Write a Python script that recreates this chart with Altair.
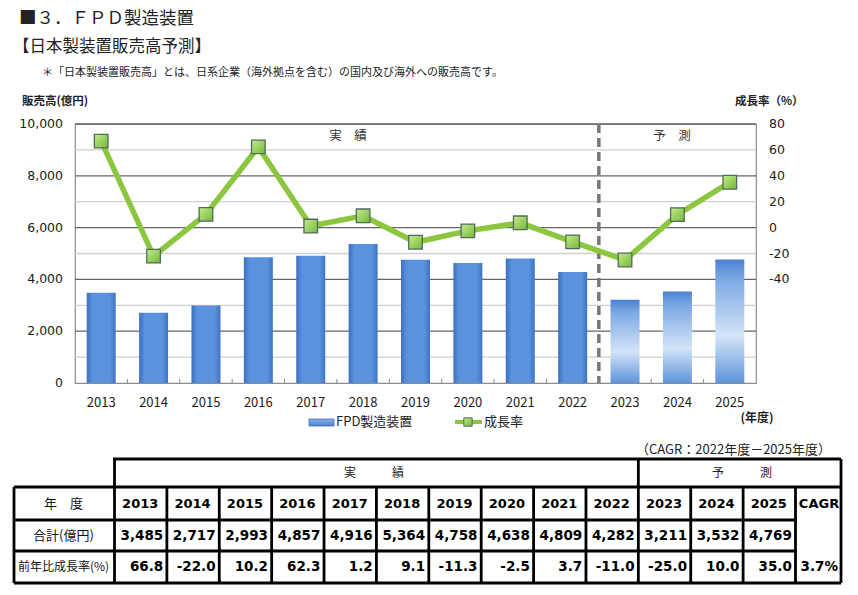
import altair as alt
import pandas as pd

# ---------------- data ----------------
years = [2013, 2014, 2015, 2016, 2017, 2018, 2019, 2020, 2021, 2022, 2023, 2024, 2025]
sales = [3485, 2717, 2993, 4857, 4916, 5364, 4758, 4638, 4809, 4282, 3211, 3532, 4769]
growth = [66.8, -22.0, 10.2, 62.3, 1.2, 9.1, -11.3, -2.5, 3.7, -11.0, -25.0, 10.0, 35.0]
phase = ["実績"] * 10 + ["予測"] * 3
cagr_label = "3.7%"
sales_ticks = [0, 2000, 4000, 6000, 8000, 10000]
growth_ticks = [-40, -20, 0, 20, 40, 60, 80]
grid_major = [2000, 4000, 6000, 8000, 10000]
grid_minor = [1000, 3000, 5000, 7000, 9000]

# ---------------- layout ----------------
W, H = 681, 259          # plot area
OX, OY = 75, 124          # plot origin in page
JP = "Noto Sans CJK JP"
NUM = "DejaVu Sans"
GREEN = "#8CC63F"

df = pd.DataFrame({
    "year": years, "sales": sales, "growth": growth, "phase": phase,
    "sales_lbl": [f"{v:,}" for v in sales],
    "growth_lbl": [f"{v:.1f}" for v in growth],
})
one = pd.DataFrame({"a": [0]})

xs = alt.Scale(domain=[years[0] - 0.5, years[-1] + 0.5], nice=False, zero=False, padding=0)
ys_sales = alt.Scale(domain=[0, 10000], nice=False, zero=False, padding=0)
ys_growth = alt.Scale(domain=[-120, 80], nice=False, zero=False, padding=0)


def label(text, x, y, size=12, weight="normal", align="left", font=JP, color="#222"):
    return alt.Chart(one).mark_text(
        text=text, align=align, baseline="middle", fontSize=size,
        fontWeight=weight, font=font, color=color
    ).encode(x=alt.value(x - OX), y=alt.value(y - OY))


def hline(x1, x2, y, w=2.8):
    return alt.Chart(one).mark_rule(color="black", strokeWidth=w).encode(
        x=alt.value(x1 - OX), x2=alt.value(x2 - OX), y=alt.value(y - OY))


def vline(x, y1, y2, w=2.8):
    return alt.Chart(one).mark_rule(color="black", strokeWidth=w).encode(
        x=alt.value(x - OX), y=alt.value(y1 - OY), y2=alt.value(y2 - OY))


# ---------------- grid ----------------
grid_minor_l = alt.Chart(pd.DataFrame({"v": grid_minor})).mark_rule(
    color="#cfcfcf", strokeWidth=1.3).encode(y=alt.Y("v:Q", scale=ys_sales, axis=None))
grid_major_l = alt.Chart(pd.DataFrame({"v": grid_major})).mark_rule(
    color="#666666", strokeWidth=1.3).encode(y=alt.Y("v:Q", scale=ys_sales, axis=None))

# ---------------- bars ----------------
grad_actual = alt.Gradient(
    gradient="linear", x1=0, x2=1, y1=0, y2=0,
    stops=[alt.GradientStop(color="#3c70c0", offset=0),
           alt.GradientStop(color="#5a92de", offset=0.2),
           alt.GradientStop(color="#5a92de", offset=0.8),
           alt.GradientStop(color="#3f73c2", offset=1)])
grad_fore = alt.Gradient(
    gradient="linear", x1=0, x2=0, y1=0, y2=1,
    stops=[alt.GradientStop(color="#4a82d0", offset=0),
           alt.GradientStop(color="#7aa8e4", offset=0.15),
           alt.GradientStop(color="#d3e4f7", offset=0.62),
           alt.GradientStop(color="#5f93da", offset=1)])

bars_actual = alt.Chart(df).transform_filter(alt.datum.phase == "実績").mark_bar(
    size=29, color=grad_actual).encode(
    x=alt.X("year:Q", scale=xs, axis=None),
    y=alt.Y("sales:Q", scale=ys_sales, axis=None),
)
bars_fore = alt.Chart(df).transform_filter(alt.datum.phase == "予測").mark_bar(
    size=29, color=grad_fore).encode(
    x=alt.X("year:Q", scale=xs, axis=None),
    y=alt.Y("sales:Q", scale=ys_sales, axis=None),
)
# left axis labels
sales_axis = alt.Chart(pd.DataFrame({"v": sales_ticks})).mark_text(
    align="right", baseline="middle", font=NUM, fontSize=12.5, color="#1a1a1a").encode(
    y=alt.Y("v:Q", scale=ys_sales, axis=None), x=alt.value(-12),
    text=alt.Text("v:Q", format=","))

sales_layer = alt.layer(grid_minor_l, grid_major_l, bars_actual, bars_fore, sales_axis)

# ---------------- growth line ----------------
grad_pt = alt.Gradient(
    gradient="linear", x1=0, x2=1, y1=0, y2=1,
    stops=[alt.GradientStop(color="#c4ec8a", offset=0),
           alt.GradientStop(color="#74b83a", offset=1)])

line = alt.Chart(df).mark_line(color=GREEN, strokeWidth=5.5).encode(
    x=alt.X("year:Q", scale=xs, axis=None),
    y=alt.Y("growth:Q", scale=ys_growth, axis=None),
)
points = alt.Chart(df).mark_square(size=185, fill=grad_pt, stroke="#4e6b5c",
                                    strokeWidth=1.3, opacity=1).encode(
    x=alt.X("year:Q", scale=xs, axis=None),
    y=alt.Y("growth:Q", scale=ys_growth, axis=None),
)
growth_axis = alt.Chart(pd.DataFrame({"v": growth_ticks})).mark_text(
    align="left", baseline="middle", font=NUM, fontSize=12.5, color="#1a1a1a").encode(
    y=alt.Y("v:Q", scale=ys_growth, axis=None), x=alt.value(W + 13),
    text=alt.Text("v:N"))
growth_layer = alt.layer(line, points, growth_axis)

# x axis labels
year_axis = alt.Chart(df).mark_text(
    align="center", baseline="middle", font=JP, fontSize=13, color="#1a1a1a").encode(
    x=alt.X("year:Q", scale=xs, axis=None), y=alt.value(403 - OY),
    text=alt.Text("year:Q", format="d"))

# ---------------- separators / ticks ----------------
bounds = [y - 0.5 for y in years] + [years[-1] + 0.5]
tick_df = pd.DataFrame({"b": bounds[1:-1]})
ticks = alt.Chart(tick_df).mark_rule(color="#888", strokeWidth=1).encode(
    x=alt.X("b:Q", scale=xs, axis=None), y=alt.value(H - 4), y2=alt.value(H))

split_df = pd.DataFrame({"b": [years[9] + 0.5]})
dashed = alt.Chart(split_df).mark_rule(color="#777777", strokeWidth=3.5,
                                       strokeDash=[9, 5]).encode(
    x=alt.X("b:Q", scale=xs, axis=None), y=alt.value(0), y2=alt.value(H))

# ---------------- texts ----------------
texts = [
    label("■３．ＦＰＤ製造装置", 19, 19, size=17.5),
    label("【日本製装置販売高予測】", 13, 47, size=16.5),
    label("＊「日本製装置販売高」とは、日系企業（海外拠点を含む）の国内及び海外への販売高です。",
          42, 73, size=11),
    label("販売高(億円)", 22, 102, size=11.5, weight="bold"),
    label("成長率（%）", 735, 102, size=11.5, weight="bold"),
    label("実　績", 348, 136, size=12.5, align="center", color="#333"),
    label("予　測", 672, 136, size=12.5, align="center", color="#333"),
    label("(年度)", 757, 418, size=12, weight="bold", align="center"),
    label("FPD製造装置", 336, 422, size=13),
    label("成長率", 484, 422, size=13),
    label("（CAGR：2022年度－2025年度）", 831, 450, size=13, align="right"),
]

legend_bar = alt.Chart(one).mark_rect(
    color=alt.Gradient(gradient="linear", x1=0, x2=0, y1=0, y2=1,
                       stops=[alt.GradientStop(color="#8db5ea", offset=0),
                              alt.GradientStop(color="#4a80cc", offset=1)]),
    stroke="#3d6fb8", strokeWidth=0.8).encode(
    x=alt.value(309 - OX), x2=alt.value(334 - OX),
    y=alt.value(419 - OY), y2=alt.value(426 - OY))
legend_line = alt.Chart(one).mark_rule(color=GREEN, strokeWidth=4).encode(
    x=alt.value(455 - OX), x2=alt.value(482 - OX), y=alt.value(422 - OY))
legend_pt = alt.Chart(one).mark_square(size=70, fill=grad_pt, stroke="#4e6b5c",
                                       strokeWidth=1, opacity=1).encode(
    x=alt.value(468 - OX), y=alt.value(422 - OY))

# ---------------- table ----------------
T_TOP, R1, R2, R3, T_BOT = 459, 487, 520, 551, 583
T_LEFT, C_LAB, C_SPLIT, C_CAGR, T_RIGHT = 14, 113, 639, 797, 841
row_hdr = (T_TOP + R1) / 2
row_year = (R1 + R2) / 2
row_sales = (R2 + R3) / 2
row_growth = (R3 + T_BOT) / 2

table_lines = [
    hline(C_LAB, T_RIGHT, T_TOP),
    hline(T_LEFT, T_RIGHT, R1),
    hline(T_LEFT, C_CAGR, R2),
    hline(T_LEFT, C_CAGR, R3),
    hline(T_LEFT, T_RIGHT, T_BOT),
    vline(T_LEFT, R1, T_BOT),
    vline(T_RIGHT, T_TOP, T_BOT),
]
vb = pd.DataFrame({"b": bounds,
                   "tall": [b in (bounds[0], years[9] + 0.5) for b in bounds]})
col_lines_tall = alt.Chart(vb).transform_filter(alt.datum.tall).mark_rule(
    color="black", strokeWidth=2.8, xOffset=39.5).encode(
    x=alt.X("b:Q", scale=xs, axis=None), y=alt.value(T_TOP - OY), y2=alt.value(T_BOT - OY))
col_lines = alt.Chart(vb).transform_filter(~alt.datum.tall).mark_rule(
    color="black", strokeWidth=2.8, xOffset=39.5).encode(
    x=alt.X("b:Q", scale=xs, axis=None), y=alt.value(R1 - OY), y2=alt.value(T_BOT - OY))

t_year = alt.Chart(df).mark_text(font=NUM, fontSize=13, fontWeight="bold", color="black",
                                 align="center", baseline="middle", dx=39).encode(
    x=alt.X("year:Q", scale=xs, axis=None), y=alt.value(row_year - OY),
    text=alt.Text("year:Q", format="d"))
t_sales = alt.Chart(df).mark_text(font=NUM, fontSize=13.5, fontWeight="bold", color="black",
                                  align="right", baseline="middle", dx=62).encode(
    x=alt.X("year:Q", scale=xs, axis=None), y=alt.value(row_sales - OY),
    text="sales_lbl:N")
t_growth = alt.Chart(df).mark_text(font=NUM, fontSize=13.5, fontWeight="bold", color="black",
                                   align="right", baseline="middle", dx=62).encode(
    x=alt.X("year:Q", scale=xs, axis=None), y=alt.value(row_growth - OY),
    text="growth_lbl:N")

table_texts = [
    label("実　　　績", 374, row_hdr, size=12, align="center", color="#222"),
    label("予　　　測", 742, row_hdr, size=12, align="center", color="#222"),
    label("年　度", (T_LEFT + C_LAB) / 2, row_year, size=13, align="center", color="#111"),
    label("合計(億円)", (T_LEFT + C_LAB) / 2, row_sales, size=13, align="center", color="#111"),
    label("前年比成長率(%)", (T_LEFT + C_LAB) / 2, row_growth, size=12, align="center",
          color="#111"),
    label("CAGR", (C_CAGR + T_RIGHT) / 2, row_year, size=13, weight="bold", align="center",
          font=NUM, color="black"),
    label(cagr_label, T_RIGHT - 3, row_growth, size=13.5, weight="bold", align="right",
          font=NUM, color="black"),
]

chart = alt.layer(
    sales_layer, dashed, growth_layer, ticks, year_axis,
    *texts, legend_bar, legend_line, legend_pt,
    *table_lines, col_lines_tall, col_lines, t_year, t_sales, t_growth, *table_texts,
).resolve_scale(y="independent").properties(
    width=W, height=H,
    autosize=alt.AutoSizeParams(type="none"),
    padding={"left": OX, "top": OY, "right": 858 - OX - W, "bottom": 595 - OY - H},
    background="white",
).configure_view(stroke="#8c8c8c", strokeWidth=1.2)

chart.save("out.html", embed_options={"renderer": "svg", "actions": False})
